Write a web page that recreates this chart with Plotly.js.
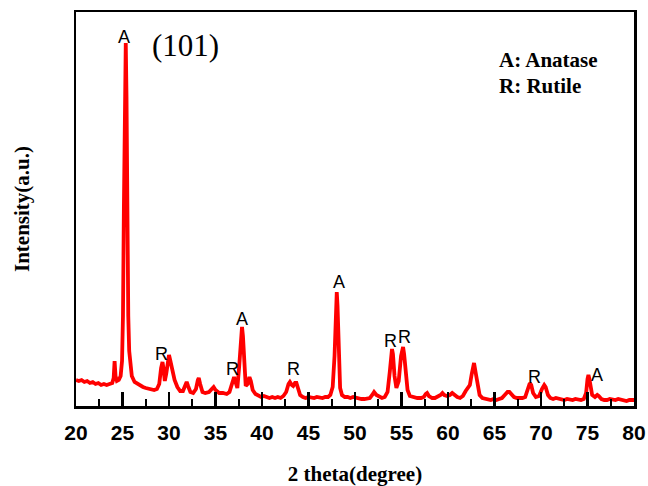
<!DOCTYPE html>
<html>
<head>
<meta charset="utf-8">
<script src="https://cdn.plot.ly/plotly-3.0.1.min.js"></script>
<style>html,body{margin:0;padding:0;background:#fff;}#chart{width:648px;height:486px;}</style>
</head>
<body>
<div id="chart"></div>
<script>
// 2 theta (degree)
const theta = [20.0,20.3,20.6,20.9,21.2,21.5,21.8,22.1,22.4,22.7,23.0,23.3,23.6,23.9,24.05,24.15,24.25,24.4,24.6,24.8,24.95,25.05,25.15,25.25,25.35,25.43,25.52,25.62,25.72,25.85,26.0,26.3,26.6,26.9,27.2,27.5,27.8,28.1,28.4,28.7,28.95,29.15,29.3,29.4,29.55,29.7,29.85,30.0,30.15,30.35,30.6,30.9,31.2,31.5,31.75,31.9,32.05,32.3,32.6,32.9,33.1,33.2,33.35,33.6,33.9,34.3,34.6,34.8,35.0,35.4,35.8,36.2,36.5,36.8,37.0,37.15,37.35,37.55,37.75,37.85,37.95,38.1,38.25,38.45,38.65,38.8,39.0,39.3,39.6,39.9,40.2,40.5,40.8,41.1,41.4,41.7,42.0,42.3,42.6,42.85,43.0,43.2,43.35,43.55,43.7,43.9,44.1,44.4,44.7,45.0,45.3,45.6,45.9,46.2,46.5,46.8,47.1,47.35,47.6,47.8,47.95,48.04,48.12,48.25,48.4,48.6,48.9,49.2,49.5,49.8,50.1,50.4,50.7,51.0,51.3,51.6,51.85,52.05,52.3,52.6,52.9,53.2,53.5,53.75,53.9,53.98,54.08,54.25,54.45,54.7,54.95,55.08,55.17,55.28,55.45,55.65,55.9,56.3,56.7,57.1,57.4,57.6,57.75,57.95,58.3,58.6,58.9,59.2,59.4,59.6,59.9,60.2,60.45,60.7,61.0,61.3,61.6,61.9,62.15,62.35,62.55,62.7,62.8,63.0,63.2,63.4,63.7,64.0,64.3,64.6,64.9,65.2,65.5,65.8,66.1,66.4,66.6,66.85,67.1,67.4,67.7,68.0,68.3,68.55,68.8,68.95,69.15,69.45,69.8,70.1,70.35,70.5,70.75,71.0,71.3,71.6,71.9,72.2,72.5,72.8,73.1,73.4,73.7,74.0,74.3,74.6,74.85,75.0,75.1,75.2,75.35,75.5,75.8,76.05,76.2,76.5,76.8,77.1,77.4,77.7,78.0,78.3,78.6,78.9,79.2,79.5,79.8,80.0];
// Intensity (a.u.)
const intensity = [26,25,26,24,25,23,24,22,23,21,22,21,22,23,28,45,30,25,26,30,45,90,200,330,363,310,180,90,55,38,30,24,22,20,19,18,17,16,16,17,22,38,44,38,25,32,46,51,45,35,26,19,15,15,20,24,20,14,13,17,26,28,22,14,13,14,17,19,16,13,13,12,14,24,29,24,18,40,74,79,70,35,20,22,29,25,16,12,10,9,10,9,8,9,8,9,8,10,14,22,24,21,20,23,23,17,11,9,8,9,8,8,9,8,8,9,9,11,19,50,105,114,100,45,18,11,9,9,8,9,8,8,7,7,8,8,11,14,11,9,8,9,14,35,53,57,52,30,18,25,50,58,59,52,32,16,10,9,8,8,9,12,13,10,8,8,9,11,13,11,10,11,13,11,9,8,10,15,19,21,32,42,43,32,18,11,8,7,6,6,7,6,7,8,11,14,14,12,9,8,8,8,9,16,23,21,13,9,10,17,21,19,11,8,7,8,7,6,6,7,6,6,7,6,6,7,13,27,31,27,15,11,9,11,10,7,6,6,7,6,6,7,6,6,5,6,6,6];

// Peak labels
const peakLabelText = ["A","R","R","A","R","A","R","R","R","A"];
const peakLabelX = [25.16,29.24,36.87,37.83,43.42,48.26,53.84,55.35,69.31,75.97];
const peakLabelY = [369,52,37,87,37,124,65,69,29,31];

const annotations = peakLabelText.map((t,i)=>({
  x: peakLabelX[i], y: peakLabelY[i], xref:'x', yref:'y', text:t, showarrow:false,
  font:{family:'Liberation Sans, Arial', size:18, color:'#000'}
}));
annotations.push({x:31.8, y:361, xref:'x', yref:'y', text:'(101)', showarrow:false,
  font:{family:'Liberation Serif, Times New Roman', size:31, color:'#000'}});
annotations.push({x:0.7545, y:0.878, xref:'paper', yref:'paper', xanchor:'left', yanchor:'middle', text:'A: Anatase', showarrow:false,
  font:{family:'Liberation Serif, Times New Roman', size:21, color:'#000', weight:'bold'}});
annotations.push({x:0.7545, y:0.812, xref:'paper', yref:'paper', xanchor:'left', yanchor:'middle', text:'R: Rutile', showarrow:false,
  font:{family:'Liberation Serif, Times New Roman', size:21, color:'#000', weight:'bold'}});

const trace = {x: theta, y: intensity, type:'scatter', mode:'lines',
  line:{color:'#ff0000', width:3.8}, hoverinfo:'skip'};

const layout = {
  width:648, height:486,
  margin:{l:76, r:14, t:12, b:80},
  paper_bgcolor:'#fff', plot_bgcolor:'#fff',
  showlegend:false,
  xaxis:{
    range:[20,80], tickmode:'linear', tick0:20, dtick:5,
    ticks:'inside', ticklen:14, tickwidth:2.5, tickcolor:'#000',
    minor:{ticks:'inside', ticklen:7, tickwidth:2, tickcolor:'#000', dtick:2.5, tick0:20},
    showline:true, linecolor:'#000', linewidth:2.5, mirror:true,
    showgrid:false, zeroline:false,
    ticklabelstandoff:6,
    tickfont:{family:'Liberation Sans, Arial', size:21, color:'#000', weight:'bold'},
    title:{text:'2 theta(degree)', standoff:28,
      font:{family:'Liberation Serif, Times New Roman', size:21, color:'#000', weight:'bold'}}
  },
  yaxis:{
    range:[0,394], showticklabels:false, ticks:'',
    showline:true, linecolor:'#000', linewidth:2.5, mirror:true,
    showgrid:false, zeroline:false,
    title:{text:'Intensity(a.u.)', standoff:38,
      font:{family:'Liberation Serif, Times New Roman', size:21, color:'#000', weight:'bold'}}
  },
  annotations: annotations
};
Plotly.newPlot('chart', [trace], layout, {staticPlot:true, displayModeBar:false});
</script>
</body>
</html>
